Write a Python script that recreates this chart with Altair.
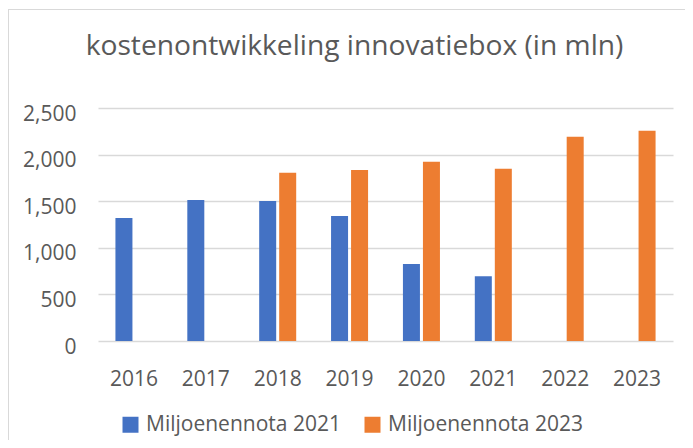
import altair as alt
import pandas as pd

years = ["2016", "2017", "2018", "2019", "2020", "2021", "2022", "2023"]
series_names = ["Miljoenennota 2021", "Miljoenennota 2023"]
mn2021 = [1320, 1514, 1503, 1341, 825, 696, None, None]
mn2023 = [None, None, 1804, 1836, 1922, 1847, 2192, 2256]
y_ticks = [0, 500, 1000, 1500, 2000, 2500]
colors = ["#4472C4", "#ED7D31"]
title_text = "kostenontwikkeling innovatiebox (in mln)"

rows = []
for name, vals in zip(series_names, [mn2021, mn2023]):
    for yr, v in zip(years, vals):
        if v is not None:
            rows.append({"jaar": yr, "reeks": name, "waarde": v})
df = pd.DataFrame(rows)

FONT = "Open Sans"
TXT = "#595959"

bars = alt.Chart(df).mark_bar().encode(
    x=alt.X("jaar:N", sort=years,
            scale=alt.Scale(domain=years, paddingInner=0.485, paddingOuter=0.2425),
            axis=alt.Axis(title=None, labelAngle=0, ticks=False, domain=False,
                          labelPadding=27, labelFontSize=21, labelFont=FONT,
                          labelColor=TXT, grid=False)),
    xOffset=alt.XOffset("reeks:N",
                        scale=alt.Scale(domain=series_names, paddingInner=0.15, paddingOuter=0)),
    y=alt.Y("waarde:Q",
            scale=alt.Scale(domain=[0, 2500], nice=False),
            axis=alt.Axis(title=None, values=y_ticks, format=",.0f", ticks=False,
                          domain=False, labelPadding=22, labelFontSize=21,
                          labelFont=FONT, labelColor=TXT, labelOffset=6,
                          gridColor="#D9D9D9", gridWidth=1.3)),
    color=alt.Color("reeks:N",
                    scale=alt.Scale(domain=series_names, range=colors),
                    legend=alt.Legend(title=None, orient="none", legendX=22, legendY=306,
                                      direction="horizontal", symbolType="square",
                                      symbolSize=256, symbolStrokeWidth=0,
                                      labelFontSize=21, labelFont=FONT, labelColor=TXT,
                                      labelOffset=5, columnPadding=21, labelLimit=400)),
)

border = alt.Chart(df).mark_rect(fill=None, stroke="#D9D9D9", strokeWidth=1, clip=False).encode(
    x=alt.value(-89.5), x2=alt.value(700), y=alt.value(-98.5), y2=alt.value(400)
)

title = alt.Chart(pd.DataFrame({"t": [title_text]})).mark_text(
    font=FONT, fontSize=28.2, color=TXT, baseline="alphabetic", align="center"
).encode(text="t:N", x=alt.value(256.5), y=alt.value(-53))

chart = alt.layer(border, bars, title).properties(
    width=575,
    height=233,
    padding={"left": 90, "top": 100, "right": 12, "bottom": 99},
    autosize=alt.AutoSizeParams(type="none"),
).configure_view(stroke=None)

chart.save("out.html", embed_options={"renderer": "svg", "actions": False})
